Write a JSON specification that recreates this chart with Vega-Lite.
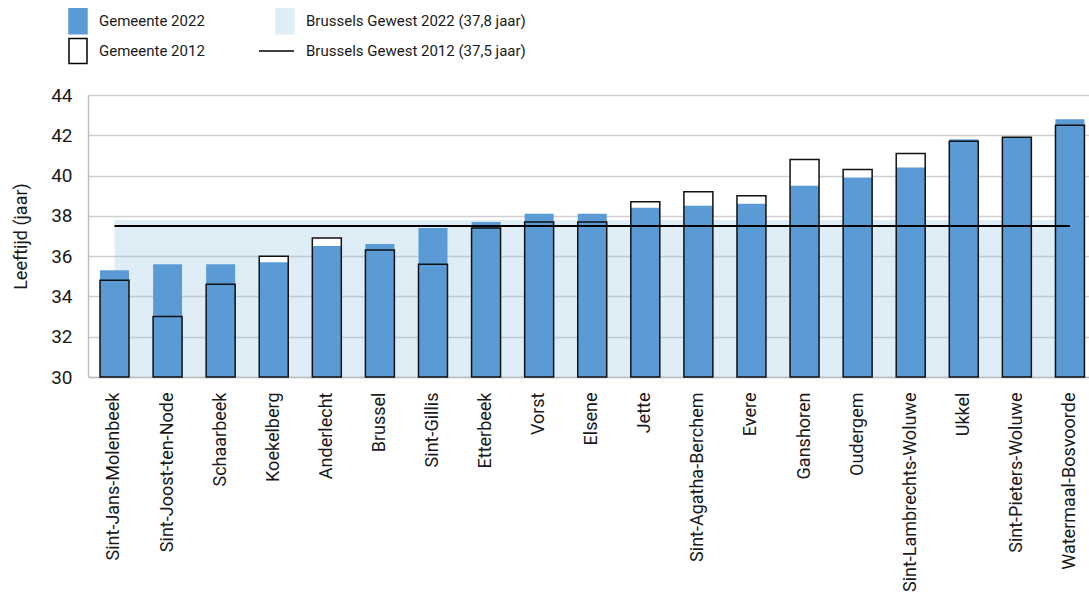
{
  "$schema": "https://vega.github.io/schema/vega-lite/v6.json",
  "width": 1001,
  "height": 282,
  "autosize": {"type": "none"},
  "padding": {"left": 88, "top": 95, "right": 0, "bottom": 220},
  "background": "white",
  "config": {
    "view": {"stroke": null},
    "font": "Roboto, sans-serif",
    "axisY": {
      "titleFontSize": 18,
      "titleFontWeight": "normal",
      "titleColor": "#1a1a1a",
      "titlePadding": 20,
      "labelFontSize": 19,
      "labelColor": "#1a1a1a",
      "labelPadding": 16,
      "ticks": false,
      "domainColor": "#bfbfbf",
      "domainWidth": 1.5,
      "grid": true,
      "gridColor": "#cfcfcf",
      "gridWidth": 1.5
    }
  },
  "data": {
    "values": [
      {"gemeente": "Sint-Jans-Molenbeek", "v2022": 35.3, "v2012": 34.8, "bg2022": 37.8, "bg2012": 37.5},
      {"gemeente": "Sint-Joost-ten-Node", "v2022": 35.6, "v2012": 33.0, "bg2022": 37.8, "bg2012": 37.5},
      {"gemeente": "Schaarbeek", "v2022": 35.6, "v2012": 34.6, "bg2022": 37.8, "bg2012": 37.5},
      {"gemeente": "Koekelberg", "v2022": 35.7, "v2012": 36.0, "bg2022": 37.8, "bg2012": 37.5},
      {"gemeente": "Anderlecht", "v2022": 36.5, "v2012": 36.9, "bg2022": 37.8, "bg2012": 37.5},
      {"gemeente": "Brussel", "v2022": 36.6, "v2012": 36.3, "bg2022": 37.8, "bg2012": 37.5},
      {"gemeente": "Sint-Gillis", "v2022": 37.4, "v2012": 35.6, "bg2022": 37.8, "bg2012": 37.5},
      {"gemeente": "Etterbeek", "v2022": 37.7, "v2012": 37.4, "bg2022": 37.8, "bg2012": 37.5},
      {"gemeente": "Vorst", "v2022": 38.1, "v2012": 37.7, "bg2022": 37.8, "bg2012": 37.5},
      {"gemeente": "Elsene", "v2022": 38.1, "v2012": 37.7, "bg2022": 37.8, "bg2012": 37.5},
      {"gemeente": "Jette", "v2022": 38.4, "v2012": 38.7, "bg2022": 37.8, "bg2012": 37.5},
      {"gemeente": "Sint-Agatha-Berchem", "v2022": 38.5, "v2012": 39.2, "bg2022": 37.8, "bg2012": 37.5},
      {"gemeente": "Evere", "v2022": 38.6, "v2012": 39.0, "bg2022": 37.8, "bg2012": 37.5},
      {"gemeente": "Ganshoren", "v2022": 39.5, "v2012": 40.8, "bg2022": 37.8, "bg2012": 37.5},
      {"gemeente": "Oudergem", "v2022": 39.9, "v2012": 40.3, "bg2022": 37.8, "bg2012": 37.5},
      {"gemeente": "Sint-Lambrechts-Woluwe", "v2022": 40.4, "v2012": 41.1, "bg2022": 37.8, "bg2012": 37.5},
      {"gemeente": "Ukkel", "v2022": 41.8, "v2012": 41.7, "bg2022": 37.8, "bg2012": 37.5},
      {"gemeente": "Sint-Pieters-Woluwe", "v2022": 41.9, "v2012": 41.9, "bg2022": 37.8, "bg2012": 37.5},
      {"gemeente": "Watermaal-Bosvoorde", "v2022": 42.8, "v2012": 42.5, "bg2022": 37.8, "bg2012": 37.5}
    ]
  },
  "encoding": {
    "x": {
      "field": "gemeente",
      "type": "nominal",
      "sort": null,
      "scale": {"type": "band", "paddingInner": 0.454, "paddingOuter": 0.156, "align": 0.725},
      "axis": {
        "title": null,
        "labelAngle": -90,
        "labelFontSize": 18,
        "labelColor": "#1a1a1a",
        "labelPadding": 15,
        "labelLimit": 0,
        "ticks": false,
        "domainColor": "#bfbfbf",
        "domainWidth": 1.5,
        "grid": false
      }
    }
  },
  "layer": [
    {
      "mark": {"type": "area", "color": "#94c6e1", "opacity": 0.3},
      "encoding": {
        "y": {
          "field": "bg2022",
          "type": "quantitative",
          "title": "Leeftijd (jaar)",
          "scale": {"domain": [30, 44], "zero": false, "nice": false},
          "axis": {"values": [30, 32, 34, 36, 38, 40, 42, 44]}
        },
        "y2": {"datum": 30}
      }
    },
    {
      "mark": {"type": "bar", "fill": "#ffffff"},
      "encoding": {
        "y": {"field": "v2012", "type": "quantitative", "title": "Leeftijd (jaar)", "scale": {"domain": [30, 44], "zero": false, "nice": false}, "axis": {"values": [30, 32, 34, 36, 38, 40, 42, 44]}},
        "y2": {"datum": 30}
      }
    },
    {
      "mark": {"type": "bar", "fill": "#5b9bd5"},
      "encoding": {
        "y": {"field": "v2022", "type": "quantitative", "title": "Leeftijd (jaar)", "scale": {"domain": [30, 44], "zero": false, "nice": false}, "axis": {"values": [30, 32, 34, 36, 38, 40, 42, 44]}},
        "y2": {"datum": 30}
      }
    },
    {
      "mark": {"type": "bar", "fill": "transparent", "stroke": "#111111", "strokeWidth": 1.5},
      "encoding": {
        "y": {"field": "v2012", "type": "quantitative", "title": "Leeftijd (jaar)", "scale": {"domain": [30, 44], "zero": false, "nice": false}, "axis": {"values": [30, 32, 34, 36, 38, 40, 42, 44]}},
        "y2": {"datum": 30}
      }
    },
    {
      "mark": {"type": "line", "color": "#000000", "strokeWidth": 2},
      "encoding": {
        "y": {"field": "bg2012", "type": "quantitative", "title": "Leeftijd (jaar)", "scale": {"domain": [30, 44], "zero": false, "nice": false}, "axis": {"values": [30, 32, 34, 36, 38, 40, 42, 44]}}
      }
    },
    {
      "data": {"values": []},
      "mark": {"type": "point", "filled": true, "opacity": 1},
      "encoding": {
        "fill": {
          "field": "serie",
          "type": "nominal",
          "scale": {
            "domain": ["Gemeente 2022", "Gemeente 2012", "Brussels Gewest 2022 (37,8 jaar)", "Brussels Gewest 2012 (37,5 jaar)"],
            "range": ["#5b9bd5", "#ffffff", "#dfeef6", "transparent"]
          },
          "legend": {
            "title": null,
            "orient": "none",
            "legendX": -22,
            "legendY": -85,
            "columns": 2,
            "columnPadding": 51,
            "rowPadding": -2,
            "symbolSize": 400,
            "symbolStrokeWidth": 1.5,
            "symbolOpacity": 1,
            "labelOffset": 11,
            "labelFontSize": 15,
            "labelColor": "#1a1a1a",
            "labelLimit": 0
          }
        },
        "stroke": {
          "field": "serie",
          "type": "nominal",
          "scale": {
            "domain": ["Gemeente 2022", "Gemeente 2012", "Brussels Gewest 2022 (37,8 jaar)", "Brussels Gewest 2012 (37,5 jaar)"],
            "range": ["#5b9bd5", "#000000", "#dfeef6", "#000000"]
          }
        },
        "shape": {
          "field": "serie",
          "type": "nominal",
          "scale": {
            "domain": ["Gemeente 2022", "Gemeente 2012", "Brussels Gewest 2022 (37,8 jaar)", "Brussels Gewest 2012 (37,5 jaar)"],
            "range": ["M-0.8,-1.25H1V1.25H-0.8Z", "M-0.8,-1.25H1V1.25H-0.8Z", "M-0.8,-1.25H1V1.25H-0.8Z", "M-2.5,0H1"]
          }
        }
      }
    }
  ]
}
